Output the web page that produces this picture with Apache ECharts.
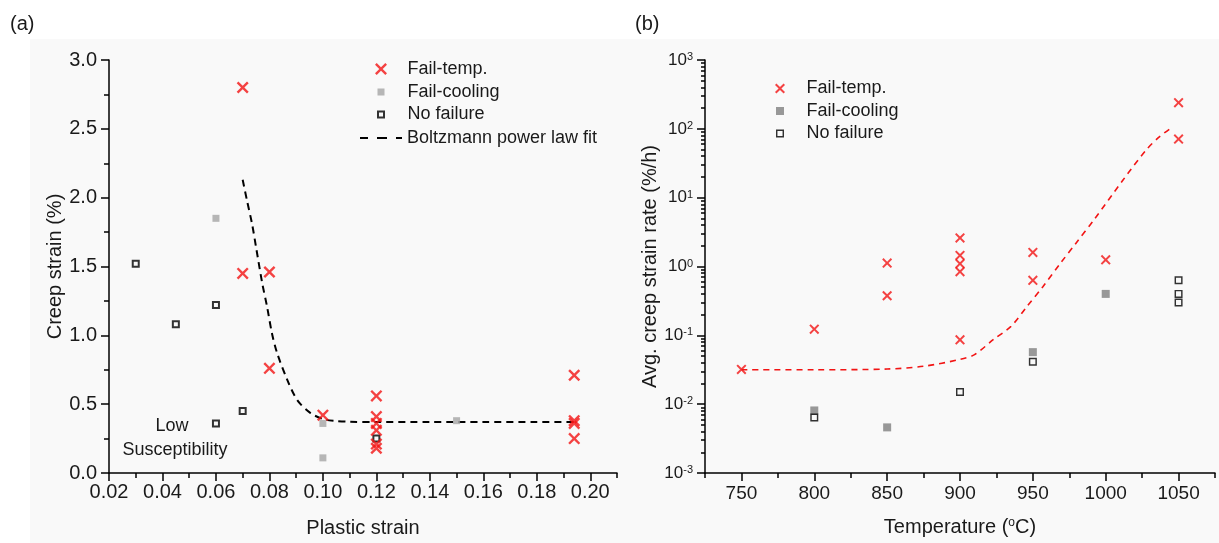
<!DOCTYPE html>
<html><head><meta charset="utf-8">
<script src="https://cdn.jsdelivr.net/npm/echarts@6/dist/echarts.min.js"></script>
<style>html,body{margin:0;padding:0;background:#fff}#c{width:1219px;height:543px}</style>
</head><body><div id="c"></div>
<script>
// ================= DATA =================
// Panel (a): creep strain vs plastic strain
const aFailTempX = [0.07, 0.07, 0.08, 0.08, 0.10, 0.12, 0.12, 0.12, 0.12, 0.12, 0.12, 0.194, 0.194, 0.194, 0.194];
const aFailTempY = [2.80, 1.45, 1.46, 0.76, 0.42, 0.56, 0.41, 0.36, 0.31, 0.21, 0.18, 0.71, 0.38, 0.36, 0.25];
const aFailCoolX = [0.06, 0.10, 0.10, 0.15];
const aFailCoolY = [1.85, 0.36, 0.11, 0.38];
const aNoFailX = [0.03, 0.045, 0.06, 0.06, 0.07, 0.12];
const aNoFailY = [1.52, 1.08, 1.22, 0.36, 0.45, 0.25];
const aFitX = [0.070, 0.0716, 0.0735, 0.075, 0.0773, 0.0791, 0.081, 0.0829, 0.0866, 0.0904, 0.0954, 0.1004, 0.105, 0.110, 0.120, 0.140, 0.160, 0.180, 0.194];
const aFitY = [2.13, 1.98, 1.81, 1.64, 1.38, 1.21, 1.01, 0.87, 0.68, 0.53, 0.435, 0.39, 0.378, 0.372, 0.370, 0.370, 0.370, 0.370, 0.370];
const aXTicks = [0.02, 0.04, 0.06, 0.08, 0.10, 0.12, 0.14, 0.16, 0.18, 0.20];
const aXMinorTicks = [0.03, 0.05, 0.07, 0.09, 0.11, 0.13, 0.15, 0.17, 0.19, 0.21];

// Panel (b): avg creep strain rate vs temperature
const bFailTempX = [750, 800, 850, 850, 900, 900, 900, 900, 900, 950, 950, 1000, 1050, 1050];
const bFailTempY = [0.032, 0.123, 1.12, 0.376, 2.6, 1.45, 1.1, 0.84, 0.086, 1.6, 0.63, 1.25, 240, 71];
const bFailCoolX = [800, 850, 950, 1000];
const bFailCoolY = [0.0081, 0.0046, 0.057, 0.40];
const bNoFailX = [800, 900, 950, 1050, 1050, 1050];
const bNoFailY = [0.0064, 0.015, 0.0414, 0.63, 0.40, 0.30];
const bFitX = [750, 800, 850, 875, 900, 910, 923, 935, 946, 957, 969, 980, 992, 1012, 1028, 1037, 1046];
const bFitY = [0.0316, 0.0316, 0.0324, 0.0355, 0.0447, 0.0525, 0.0871, 0.135, 0.263, 0.513, 1.12, 2.24, 4.79, 18.2, 50, 77, 107];
const bXTicks = [750, 800, 850, 900, 950, 1000, 1050];
const bXMinorTicks = [725, 775, 825, 875, 925, 975, 1025, 1075];
const bYTicks = [0.001, 0.01, 0.1, 1, 10, 100, 1000];

// ================= CHART =================
const FONT = 'Liberation Sans, Arial, sans-serif';
const TXT = '#1a1a1a';
const RED = '#f21414';
const XPATH = 'path://M0,1.4L1.4,0L5,3.6L8.6,0L10,1.4L6.4,5L10,8.6L8.6,10L5,6.4L1.4,10L0,8.6L3.6,5Z';
const SQ = 'path://M0,0H10V10H0Z';
const HOLLOW_A = 'path://M0,0H10V10H0Z M2.5,2.5V7.5H7.5V2.5Z';
const HOLLOW_B = 'path://M0,0H10V10H0Z M1.8,1.8V8.2H8.2V1.8Z';
const DASH_ICON = 'path://M0,0H8V2H0Z M17,0H27V2H17Z M36,0H42V2H36Z';
const zip = (xs, ys) => xs.map((x, i) => [x, ys[i]]);

const axisLine = {lineStyle: {color: '#000', width: 1.5}};
const tickStyle = {color: '#000', width: 1.5};

// icon legends: the box is placed by the icon's own bounds, so left = icon centre - size/2
function legendItem(name, icon, centerX, centerY, w, h, style, full) {
  const item = {name: name, icon: icon, itemStyle: style};
  const left = full ? centerX - w / 2 : centerX - h / 2;
  return {
    data: [item],
    left: left, top: centerY - 9, itemWidth: w, itemHeight: h, padding: 0, itemGap: 0,
    selectedMode: false,
    textStyle: {fontSize: 18, color: TXT, fontFamily: FONT}
  };
}

const supFmt = v => {
  const e = Math.round(Math.log10(v));
  return '{b|10}{s|' + e + '}';
};

const option = {
  backgroundColor: '#ffffff',
  animation: false,
  textStyle: {fontFamily: FONT},
  graphic: [
    {type: 'rect', z: -100, silent: true, shape: {x: 30, y: 39, width: 1189, height: 504}, style: {fill: '#f9f9f9'}},
    {type: 'text', left: 10, top: 14, style: {text: '(a)', font: '20px ' + FONT, fill: TXT}},
    {type: 'text', left: 635, top: 14, style: {text: '(b)', font: '20px ' + FONT, fill: TXT}},
    {type: 'text', x: 172, y: 426, style: {text: 'Low', font: '18px ' + FONT, fill: TXT, align: 'center', verticalAlign: 'middle'}},
    {type: 'text', x: 175, y: 450, style: {text: 'Susceptibility', font: '18px ' + FONT, fill: TXT, align: 'center', verticalAlign: 'middle'}}
  ],
  legend: [
    legendItem('Fail-temp.', XPATH, 381, 69, 43, 12, {color: RED}),
    legendItem('Fail-cooling', SQ, 381, 92, 43, 7, {color: '#a5a5a5'}),
    legendItem('No failure', HOLLOW_A, 381, 114.5, 43, 8, {color: '#000'}),
    legendItem('Boltzmann power law fit', DASH_ICON, 381, 138, 42, 2, {color: '#000'}, true),
    legendItem('Fail-temp.', XPATH, 780, 88.5, 43, 10, {color: RED}),
    legendItem('Fail-cooling', SQ, 780, 111, 43, 8, {color: '#808080'}),
    legendItem('No failure', HOLLOW_B, 780, 133.5, 43, 8, {color: '#000'})
  ],
  grid: [
    {left: 109, top: 60, width: 508, height: 413, outerBoundsMode: 'none', containLabel: false},
    {left: 705, top: 60, width: 510, height: 413, outerBoundsMode: 'none', containLabel: false}
  ],
  xAxis: [
    {
      gridIndex: 0, type: 'value', min: 0.02, max: 0.21, position: 'bottom',
      axisLine: axisLine,
      axisTick: {customValues: aXTicks, length: 8, lineStyle: tickStyle},
      axisLabel: {customValues: aXTicks, formatter: v => v.toFixed(2), fontSize: 20, color: TXT, margin: 9, fontFamily: FONT},
      splitLine: {show: false},
      name: 'Plastic strain', nameLocation: 'middle', nameGap: 45,
      nameTextStyle: {fontSize: 20, color: TXT, fontFamily: FONT}
    },
    {
      gridIndex: 0, type: 'value', min: 0.02, max: 0.21, position: 'bottom',
      axisLine: {show: false},
      axisTick: {customValues: aXMinorTicks, length: 5, lineStyle: tickStyle},
      axisLabel: {show: false}, splitLine: {show: false}
    },
    {
      gridIndex: 1, type: 'value', min: 725, max: 1075, position: 'bottom',
      axisLine: axisLine,
      axisTick: {customValues: bXTicks, length: 8, lineStyle: tickStyle},
      axisLabel: {customValues: bXTicks, formatter: v => String(v), fontSize: 19, color: TXT, margin: 11, fontFamily: FONT},
      splitLine: {show: false},
      name: '{a|Temperature (}{s|o}{a|C)}', nameLocation: 'middle', nameGap: 44,
      nameTextStyle: {fontSize: 20, color: TXT, fontFamily: FONT,
        rich: {a: {fontSize: 20, color: TXT, fontFamily: FONT}, s: {fontSize: 12, color: TXT, fontFamily: FONT, verticalAlign: 'top'}}}
    },
    {
      gridIndex: 1, type: 'value', min: 725, max: 1075, position: 'bottom',
      axisLine: {show: false},
      axisTick: {customValues: bXMinorTicks, length: 5, lineStyle: tickStyle},
      axisLabel: {show: false}, splitLine: {show: false}
    }
  ],
  yAxis: [
    {
      gridIndex: 0, type: 'value', min: 0, max: 3, interval: 0.5, position: 'left',
      axisLine: axisLine,
      axisTick: {length: 8, lineStyle: tickStyle},
      minorTick: {show: true, splitNumber: 2, length: 5, lineStyle: tickStyle},
      axisLabel: {formatter: v => v.toFixed(1), fontSize: 20, color: TXT, margin: 12, fontFamily: FONT},
      splitLine: {show: false}, minorSplitLine: {show: false},
      name: 'Creep strain (%)', nameLocation: 'middle', nameGap: 44,
      nameTextStyle: {fontSize: 20, color: TXT, fontFamily: FONT}
    },
    {
      gridIndex: 1, type: 'log', logBase: 10, min: 0.001, max: 1000, position: 'left',
      axisLine: axisLine,
      axisTick: {customValues: bYTicks, length: 8, lineStyle: tickStyle},
      axisLabel: {customValues: bYTicks, formatter: supFmt, color: TXT, margin: 12, fontFamily: FONT,
        rich: {b: {fontSize: 17, color: TXT, fontFamily: FONT}, s: {fontSize: 11, color: TXT, fontFamily: FONT, verticalAlign: 'top'}}},
      splitLine: {show: false},
      name: 'Avg. creep strain rate (%/h)', nameLocation: 'middle', nameGap: 43,
      nameTextStyle: {fontSize: 20, color: TXT, fontFamily: FONT}
    },
    {
      gridIndex: 1, type: 'log', logBase: 10, min: 0.001, max: 1000, position: 'left',
      axisLine: {show: false},
      axisTick: {customValues: (function () {
        const v = [];
        for (let d = 0; d < bYTicks.length - 1; d++) for (let m = 2; m <= 9; m++) v.push(+(bYTicks[d] * m).toPrecision(3));
        return v;
      })(), length: 4, lineStyle: tickStyle},
      axisLabel: {show: false}, splitLine: {show: false}
    }
  ],
  series: [
    {name: 'Boltzmann power law fit', type: 'line', xAxisIndex: 0, yAxisIndex: 0, data: zip(aFitX, aFitY),
      smooth: 0.3, showSymbol: false, symbol: 'none', lineStyle: {color: '#000', width: 2, type: [7, 5]}, itemStyle: {color: '#000'}, z: 2},
    {name: 'Fail-cooling', type: 'scatter', xAxisIndex: 0, yAxisIndex: 0, data: zip(aFailCoolX, aFailCoolY),
      symbol: SQ, symbolSize: 7, itemStyle: {color: '#a5a5a5'}, z: 3},
    {name: 'No failure', type: 'scatter', xAxisIndex: 0, yAxisIndex: 0, data: zip(aNoFailX, aNoFailY),
      symbol: HOLLOW_A, symbolSize: 8, itemStyle: {color: '#000'}, z: 4},
    {name: 'Fail-temp.', type: 'scatter', xAxisIndex: 0, yAxisIndex: 0, data: zip(aFailTempX, aFailTempY),
      symbol: XPATH, symbolSize: 12, itemStyle: {color: RED}, z: 5},

    {name: 'b-fit', type: 'line', xAxisIndex: 2, yAxisIndex: 1, data: zip(bFitX, bFitY),
      smooth: 0.3, showSymbol: false, symbol: 'none', lineStyle: {color: RED, width: 1.6, type: [6, 5]}, z: 2},
    {name: 'Fail-cooling', type: 'scatter', xAxisIndex: 2, yAxisIndex: 1, data: zip(bFailCoolX, bFailCoolY),
      symbol: SQ, symbolSize: 8, itemStyle: {color: '#808080'}, z: 3},
    {name: 'No failure', type: 'scatter', xAxisIndex: 2, yAxisIndex: 1, data: zip(bNoFailX, bNoFailY),
      symbol: HOLLOW_B, symbolSize: 8, itemStyle: {color: '#000'}, z: 4},
    {name: 'Fail-temp.', type: 'scatter', xAxisIndex: 2, yAxisIndex: 1, data: zip(bFailTempX, bFailTempY),
      symbol: XPATH, symbolSize: 10, itemStyle: {color: RED}, z: 5}
  ]
};

const chart = echarts.init(document.getElementById('c'), null, {renderer: 'canvas'});
chart.setOption(option);
</script>
</body></html>
